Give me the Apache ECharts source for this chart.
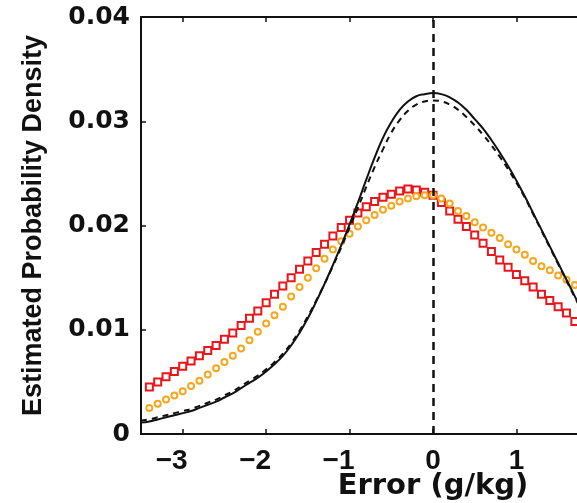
<!DOCTYPE html>
<html>
<head>
<meta charset="utf-8">
<title>Estimated Probability Density</title>
<script src="https://cdn.jsdelivr.net/npm/echarts@6/dist/echarts.min.js"></script>
<style>
  html, body { margin: 0; padding: 0; background: #fff; }
  #chart { width: 577px; height: 503px; }
</style>
</head>
<body>
<div id="chart"></div>
<script>
// error values (g/kg), shared by every curve
var xs = [
    -3.5, -3.4, -3.3, -3.2, -3.1, -3.0, -2.9, -2.8, -2.7, -2.6,
    -2.5, -2.4, -2.3, -2.2, -2.1, -2.0, -1.9, -1.8, -1.7, -1.6,
    -1.5, -1.4, -1.3, -1.2, -1.1, -1.0, -0.9, -0.8, -0.7, -0.6,
    -0.5, -0.4, -0.3, -0.2, -0.1, 0.0, 0.1, 0.2, 0.3, 0.4,
    0.5, 0.6, 0.7, 0.8, 0.9, 1.0, 1.1, 1.2, 1.3, 1.4,
    1.5, 1.6, 1.7, 1.8
];

// black solid
var solidPdf = [
    0.0011, 0.0012, 0.0014, 0.0016, 0.0018, 0.0020, 0.0022, 0.0025, 0.0028, 0.0031,
    0.0035, 0.0039, 0.0044, 0.0049, 0.0054, 0.0060, 0.0067, 0.0075, 0.0085, 0.0097,
    0.0111, 0.0127, 0.0144, 0.0162, 0.0181, 0.0201, 0.0222, 0.0244, 0.0265, 0.0284,
    0.0299, 0.0311, 0.0319, 0.0324, 0.0326, 0.0327, 0.0326, 0.0323, 0.0318, 0.0311,
    0.0302, 0.0293, 0.0282, 0.0270, 0.0257, 0.0243, 0.0228, 0.0212, 0.0196, 0.0180,
    0.0164, 0.0148, 0.0132, 0.0116
];

// black dashed
var dashedPdf = [
    0.0013, 0.0014, 0.0016, 0.0018, 0.0020, 0.0022, 0.0024, 0.0027, 0.0030, 0.0033,
    0.0037, 0.0041, 0.0046, 0.0051, 0.0056, 0.0062, 0.0069, 0.0077, 0.0087, 0.0099,
    0.0113, 0.0128, 0.0144, 0.0161, 0.0179, 0.0198, 0.0217, 0.0237, 0.0256, 0.0273,
    0.0289, 0.0301, 0.0310, 0.0316, 0.0319, 0.0320, 0.0319, 0.0316, 0.0311, 0.0304,
    0.0296, 0.0287, 0.0277, 0.0266, 0.0254, 0.0241, 0.0227, 0.0211, 0.0195, 0.0179,
    0.0163, 0.0147, 0.0131, 0.0116
];

// red squares
var redPdf = [
    null, 0.0045, 0.0050, 0.0055, 0.0060, 0.0065, 0.0070, 0.0075, 0.0080, 0.0085,
    0.0091, 0.0097, 0.0104, 0.0111, 0.0118, 0.0126, 0.0134, 0.0142, 0.0150, 0.0158,
    0.0166, 0.0174, 0.0182, 0.0190, 0.0198, 0.0205, 0.0212, 0.0218, 0.0223, 0.0227,
    0.0230, 0.0233, 0.0235, 0.0234, 0.0232, 0.0229, 0.0222, 0.0214, 0.0206, 0.0199,
    0.0191, 0.0183, 0.0175, 0.0167, 0.0160, 0.0153, 0.0147, 0.0141, 0.0134, 0.0128,
    0.0122, 0.0116, 0.0108, 0.0101
];

// orange circles
var orangePdf = [
    null, 0.0025, 0.0029, 0.0033, 0.0037, 0.0041, 0.0046, 0.0051, 0.0057, 0.0063,
    0.0069, 0.0075, 0.0082, 0.0090, 0.0098, 0.0106, 0.0114, 0.0122, 0.0132, 0.0141,
    0.0150, 0.0159, 0.0168, 0.0177, 0.0185, 0.0192, 0.0199, 0.0205, 0.0210, 0.0215,
    0.0219, 0.0223, 0.0226, 0.0228, 0.0229, 0.0229, 0.0226, 0.0221, 0.0214, 0.0209,
    0.0203, 0.0198, 0.0193, 0.0188, 0.0182, 0.0177, 0.0172, 0.0166, 0.0161, 0.0157,
    0.0152, 0.0148, 0.0143, 0.0138
];

var xMin = -3.5, xMax = 3.5;
var yMin = 0, yMax = 0.04, yStep = 0.01;

function pairs(ys) {
    var out = [];
    for (var i = 0; i < xs.length; i++) {
        if (ys[i] !== null) out.push([xs[i], ys[i]]);
    }
    return out;
}

var xTickFont = {
    fontFamily: 'Liberation Sans',
    fontWeight: 'bold',
    fontSize: 28,
    color: '#111'
};

var myChart = echarts.init(document.getElementById('chart'), null, {renderer: 'canvas'});

var option = {
    animation: false,
    backgroundColor: '#fff',
    grid: {
        left: 141,
        top: 17,
        width: 584,
        height: 417,
        outerBoundsMode: 'none',
        containLabel: false,
        show: false
    },
    xAxis: [
        {
            type: 'value',
            min: xMin,
            max: xMax,
            splitNumber: 7,
            name: 'Error (g/kg)',
            nameLocation: 'middle',
            nameGap: 38,
            nameMoveOverlap: false,
            nameTextStyle: {
                fontFamily: 'DejaVu Sans',
                fontWeight: 'bold',
                fontSize: 29,
                color: '#111'
            },
            axisLine: { onZero: false, lineStyle: { color: '#111', width: 2 } },
            axisTick: { inside: true, length: 5, lineStyle: { color: '#111', width: 1.5 } },
            axisLabel: Object.assign({
                margin: 13,
                showMinLabel: false,
                showMaxLabel: false,
                formatter: function (v) {
                    // negative labels: minus hangs left of the tick, digit sits near it
                    return v < 0 ? '{neg|\u2212' + Math.abs(v) + '}' : String(v);
                },
                rich: {
                    neg: Object.assign({ padding: [0, 22, 0, 0] }, xTickFont)
                }
            }, xTickFont),
            splitLine: { show: false }
        },
        {
            type: 'value',
            position: 'top',
            min: xMin,
            max: xMax,
            splitNumber: 7,
            axisLine: { onZero: false, lineStyle: { color: '#111', width: 2 } },
            axisTick: { inside: true, length: 5, lineStyle: { color: '#111', width: 1.5 } },
            axisLabel: { show: false },
            splitLine: { show: false }
        }
    ],
    yAxis: [
        {
            type: 'value',
            min: yMin,
            max: yMax,
            interval: yStep,
            name: 'Estimated Probability Density',
            nameLocation: 'middle',
            nameGap: 94,
            nameMoveOverlap: false,
            nameTextStyle: {
                fontFamily: 'Liberation Sans',
                fontWeight: 'bold',
                fontSize: 27,
                color: '#111'
            },
            axisLine: { onZero: false, lineStyle: { color: '#111', width: 2 } },
            axisTick: { inside: true, length: 5, lineStyle: { color: '#111', width: 1.5 } },
            axisLabel: {
                fontFamily: 'DejaVu Sans',
                fontWeight: 'bold',
                fontSize: 25,
                color: '#111',
                margin: 11
            },
            splitLine: { show: false }
        },
        {
            type: 'value',
            position: 'right',
            min: yMin,
            max: yMax,
            interval: yStep,
            axisLine: { onZero: false, lineStyle: { color: '#111', width: 2 } },
            axisTick: { inside: true, length: 5 },
            axisLabel: { show: false },
            splitLine: { show: false }
        }
    ],
    series: [
        {
            name: 'red',
            type: 'scatter',
            data: pairs(redPdf),
            symbol: 'rect',
            symbolSize: 7,
            itemStyle: { color: '#fff', borderColor: '#e8161b', borderWidth: 2, opacity: 1 },
            z: 2
        },
        {
            name: 'orange',
            type: 'scatter',
            data: pairs(orangePdf),
            symbol: 'circle',
            symbolSize: 6,
            itemStyle: { color: '#fff', borderColor: '#f5a71e', borderWidth: 2, opacity: 1 },
            z: 3
        },
        {
            name: 'dashed',
            type: 'line',
            data: pairs(dashedPdf),
            smooth: true,
            showSymbol: false,
            lineStyle: { color: '#111', width: 2, type: [6, 5] },
            z: 4
        },
        {
            name: 'solid',
            type: 'line',
            data: pairs(solidPdf),
            smooth: true,
            showSymbol: false,
            lineStyle: { color: '#111', width: 2 },
            z: 5,
            markLine: {
                silent: true,
                symbol: ['none', 'none'],
                label: { show: false },
                lineStyle: { color: '#111', width: 2.5, type: [8, 6] },
                data: [{ xAxis: 0 }]
            }
        }
    ]
};

myChart.setOption(option);
</script>
</body>
</html>
